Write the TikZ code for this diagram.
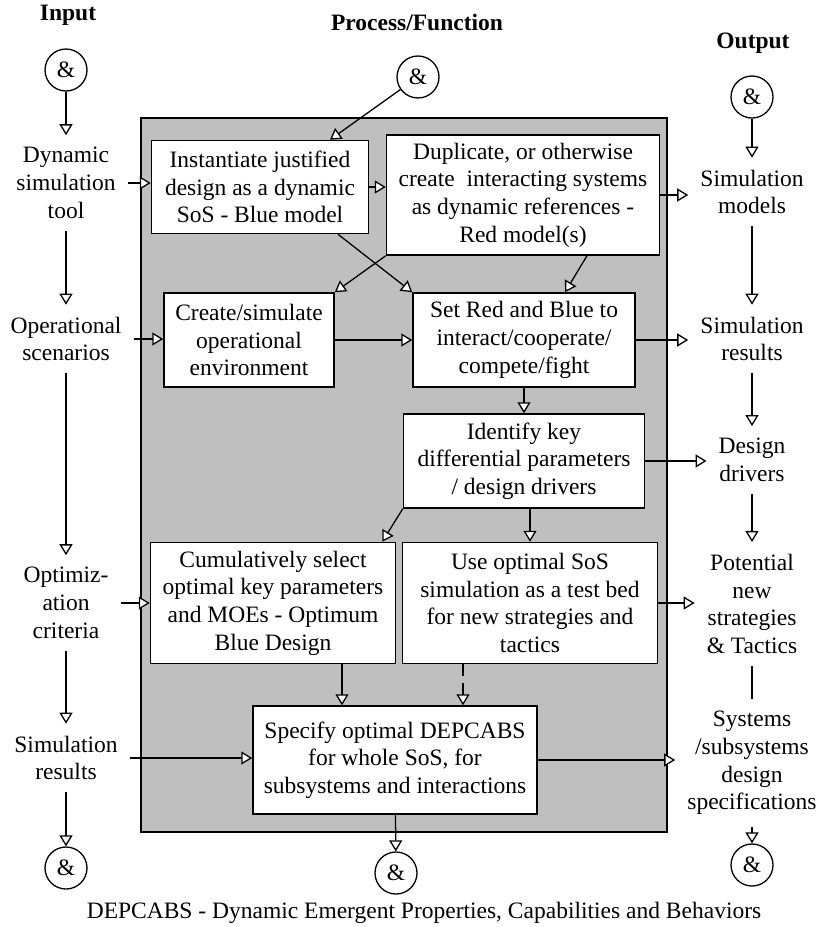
\documentclass[tikz,border=0pt]{standalone}
\usepackage{fontspec}
\setmainfont{Liberation Serif}
\usepackage{tikz}
\usetikzlibrary{arrows.meta,positioning}

\begin{document}
\begin{tikzpicture}[x=1pt,y=-1pt,
  font=\fontsize{23.5}{27.7}\selectfont,
  procbox/.style={draw,fill=white,line width=1.5pt,align=center,inner sep=0pt},
  flowlabel/.style={align=center,inner sep=12pt},
  andnode/.style={draw,circle,line width=1.3pt,minimum size=42pt,inner sep=0pt},
  arr/.style={line width=1.3pt,-{Triangle[fill=white,length=11pt,width=13pt]}},
  plain/.style={line width=1.3pt}]
\useasboundingbox (0,0) rectangle (821,927);
\draw[line width=1.8pt,fill=black!25] (141,118) rectangle (667,832);
\node (inhead) at (68,15) {\textbf{Input}};
\node (prochead) at (417,22) {\textbf{Process/Function}};
\node (outhead) at (753,43) {\textbf{Output}};
\node[andnode] (andin) at (66,70) {\&};
\node[andnode] (andproc) at (418,77) {\&};
\node[andnode] (andout) at (752,97) {\&};
\node[andnode] (andinB) at (66,868) {\&};
\node[andnode] (andprocB) at (396,873) {\&};
\node[andnode] (andoutB) at (752,865) {\&};
\node[flowlabel] (dynsim) at (66,183) {Dynamic\\simulation\\tool};
\node[flowlabel] (opscen) at (66,339) {Operational\\scenarios};
\node[flowlabel] (optcrit) at (66,603) {Optimiz-\\ation\\criteria};
\node[flowlabel] (simresin) at (66,758) {Simulation\\results};
\node[flowlabel] (simmod) at (752,192) {Simulation\\models};
\node[flowlabel] (simres) at (752,339) {Simulation\\results};
\node[flowlabel] (desdrv) at (752,460) {Design\\drivers};
\node[flowlabel] (newstrat) at (752,604) {Potential\\new\\strategies\\\& Tactics};
\node[flowlabel] (sysspec) at (752,763) {Systems\\/subsystems\\design\\specifications};
\node[procbox,minimum width=217pt,minimum height=93pt] (instant) at (260,187) {Instantiate justified\\design as a dynamic\\SoS - Blue model};
\node[procbox,minimum width=273pt,minimum height=120pt] (duplic) at (523,195) {Duplicate, or otherwise\\create\ \ interacting systems\\as dynamic references -\\Red model(s)};
\node[procbox,minimum width=170pt,minimum height=94pt] (openv) at (249,340) {Create/simulate\\operational\\environment};
\node[procbox,minimum width=222pt,minimum height=94pt] (setrb) at (524,340) {Set Red and Blue to\\interact/cooperate/\\compete/fight};
\node[procbox,minimum width=241pt,minimum height=94pt] (identify) at (524,461) {Identify key\\differential parameters\\/ design drivers};
\node[procbox,minimum width=245pt,minimum height=121pt] (cumsel) at (273,603) {Cumulatively select\\optimal key parameters\\and MOEs - Optimum\\Blue Design};
\node[procbox,minimum width=255pt,minimum height=121pt] (testbed) at (530,603) {Use optimal SoS\\simulation as a test bed\\for new strategies and\\tactics};
\node[procbox,minimum width=284pt,minimum height=108pt] (specify) at (395,760) {Specify optimal DEPCABS\\for whole SoS, for\\subsystems and interactions};
\node (caption) at (424,913) {DEPCABS - Dynamic Emergent Properties, Capabilities and Behaviors};
\draw[arr] (andin) -- (dynsim);
\draw[arr] (dynsim) -- (opscen);
\draw[arr] (opscen) -- (optcrit);
\draw[arr] (optcrit) -- (simresin);
\draw[arr] (simresin) -- (andinB);
\draw[arr] (andout) -- (simmod);
\draw[arr] (simmod) -- (simres);
\draw[arr] (simres) -- (desdrv);
\draw[arr] (desdrv) -- (newstrat);
\draw[plain] (newstrat) -- (sysspec);
\draw[arr] (sysspec) -- (andoutB);
\draw[arr] (andproc) -- ([xshift=70pt]instant.north);
\draw[arr] (dynsim.east) -- (dynsim.east -| instant.west);
\draw[arr] (opscen.east) -- (opscen.east -| openv.west);
\draw[arr] (optcrit.east) -- (optcrit.east -| cumsel.west);
\draw[arr] (simresin.east) -- (simresin.east -| specify.west);
\draw[arr] (instant.east) -- (instant.east -| duplic.west);
\draw[arr] (duplic.east) -- (duplic.east -| simmod.west);
\draw[arr] ([xshift=78pt]instant.south) -- (setrb.north west);
\draw[arr] (duplic.south west) -- (openv.north east);
\draw[arr] ([xshift=64pt]duplic.south) -- ([xshift=41pt]setrb.north);
\draw[arr] (openv) -- (setrb);
\draw[arr] (setrb.east) -- (setrb.east -| simres.west);
\draw[arr] (setrb) -- (identify);
\draw[arr] (identify.east) -- (identify.east -| desdrv.west);
\draw[arr] (identify.south west) -- ([xshift=-14pt]cumsel.north east);
\draw[arr] (identify.south -| testbed.north) -- (testbed.north);
\draw[arr] (testbed.east) -- (testbed.east -| newstrat.west);
\draw[arr] ([xshift=69pt]cumsel.south) -- ([xshift=69pt]cumsel.south |- specify.north);
\draw[arr,dash pattern=on 12pt off 7pt] ([xshift=-67pt]testbed.south) -- ([xshift=-67pt]testbed.south |- specify.north);
\draw[arr] (specify.east) -- (specify.east -| sysspec.west);
\draw[arr] (specify) -- (andprocB);
\end{tikzpicture}
\end{document}
